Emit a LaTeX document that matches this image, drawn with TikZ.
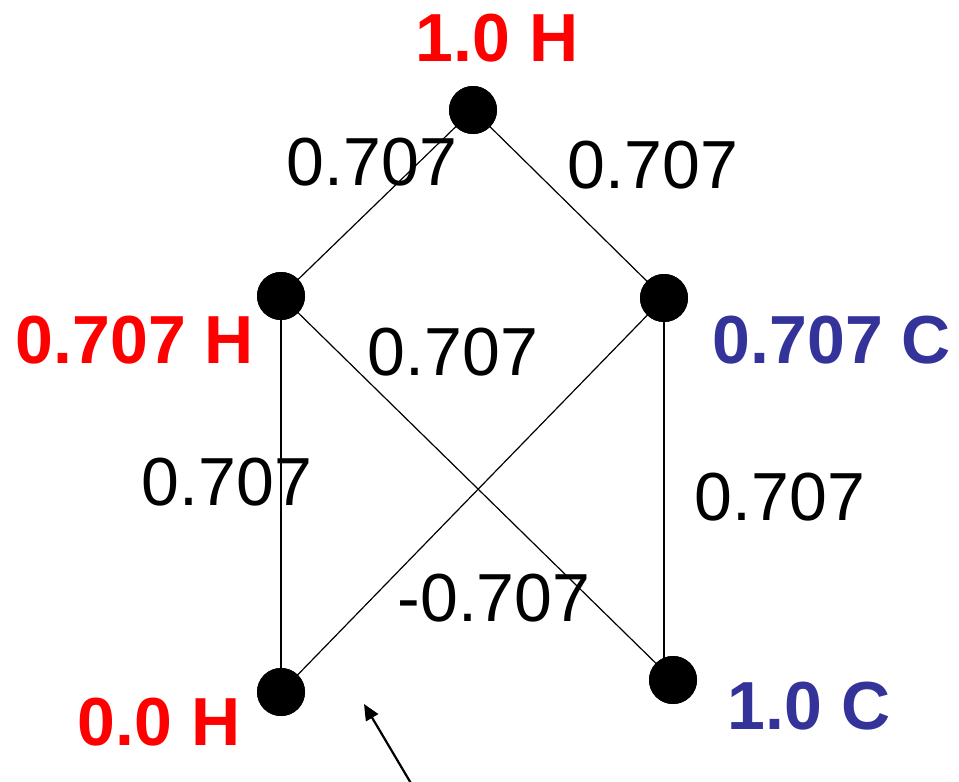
\documentclass[tikz,border=0pt]{standalone}
\usepackage{fontspec}
\setmainfont{Liberation Sans}
\usetikzlibrary{arrows.meta}
\definecolor{hred}{RGB}{255,0,0}
\definecolor{cblue}{RGB}{51,51,153}
\begin{document}
\begin{tikzpicture}[x=1pt,y=-1pt,
  dot/.style={circle,fill=black,draw=none,minimum size=48pt,inner sep=0pt},
  edge/.style={draw=black,line width=1.2pt},
  wlabel/.style={font=\fontsize{68}{80}\selectfont,text=black,inner sep=0pt},
  hlabel/.style={font=\fontsize{68}{80}\selectfont\bfseries,text=hred,inner sep=0pt},
  clabel/.style={font=\fontsize{68}{80}\selectfont\bfseries,text=cblue,inner sep=0pt}]
\useasboundingbox (0,0) rectangle (959,782);
\node[dot] (t) at (473,110) {};
\node[dot] (lm) at (281,296) {};
\node[dot] (rm) at (664,298) {};
\node[dot] (bl) at (281,692) {};
\node[dot] (br) at (673,680) {};
\draw[edge] (t.center) -- (lm.center);
\draw[edge] (t.center) -- (rm.center);
\draw[edge] (lm.center) -- (bl.center);
\draw[edge] (lm.center) -- (br.center);
\draw[edge] (rm.center) -- (bl.center);
\draw[edge] (rm.center) -- (664,680);
\node[dot] at (t) {};
\node[dot] at (lm) {};
\node[dot] at (rm) {};
\node[dot] at (bl) {};
\node[dot] at (br) {};
\node[hlabel] (l1) at (497,38) {1.0 H};
\node[wlabel] (w1) at (372,162) {0.707};
\node[wlabel] (w2) at (653,165) {0.707};
\node[hlabel] (l2) at (135,340) {0.707 H};
\node[wlabel] (w3) at (453,352) {0.707};
\node[clabel] (l3) at (832,340) {0.707 C};
\node[wlabel] (w4) at (227,482) {0.707};
\node[wlabel] (w5) at (780,497) {0.707};
\node[wlabel] (w6) at (494,598) {-0.707};
\node[hlabel] (l4) at (159,722) {0.0 H};
\node[clabel] (l5) at (809,706) {1.0 C};
\coordinate (as) at (412,785);
\coordinate (ae) at (364,704);
\draw[line width=2.2pt,-{Triangle[length=16pt,width=14pt]}] (as) -- (ae);
\end{tikzpicture}
\end{document}
